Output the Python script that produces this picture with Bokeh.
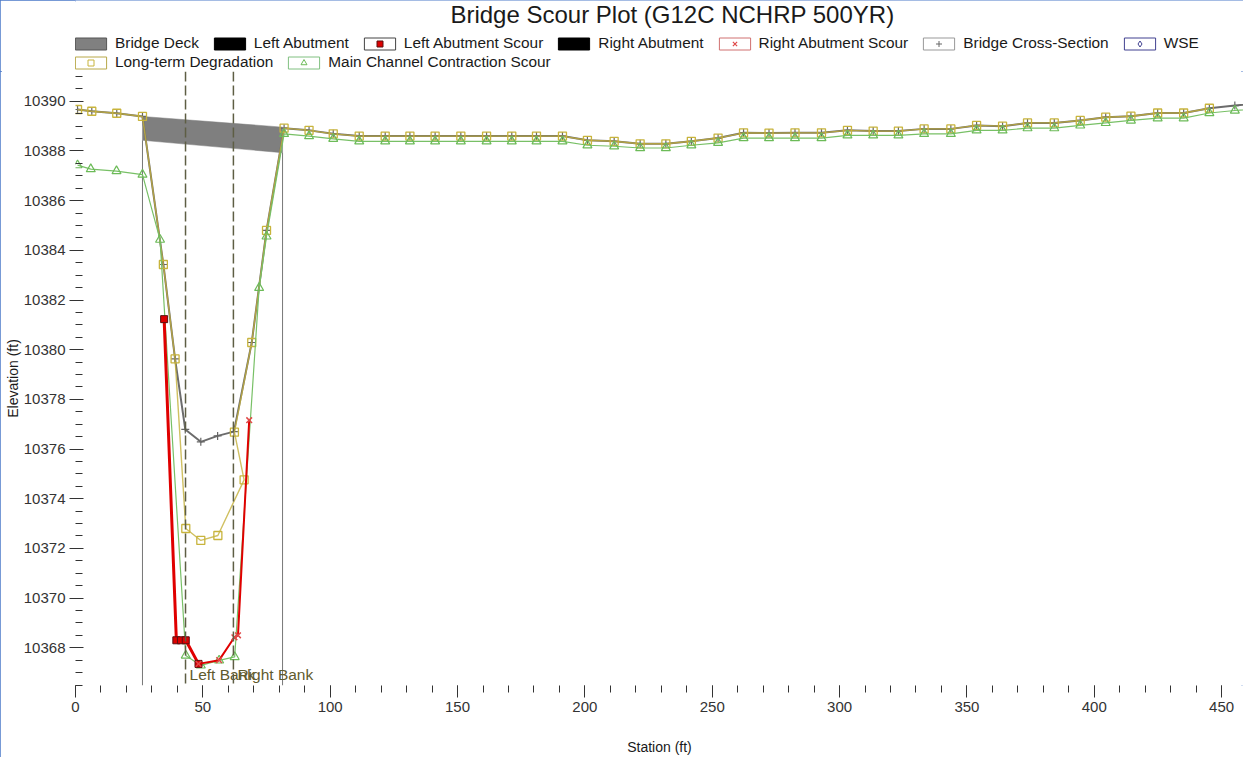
from bokeh.plotting import figure
from bokeh.layouts import column
from bokeh.models import (Legend, LegendItem, Range1d, SingleIntervalTicker, Span, Label)
from bokeh.embed import file_html
from bokeh.resources import INLINE
from bokeh.core.properties import value

NaN = float("nan")
FONT = "Liberation Sans"

# ---------------- data ----------------
title_text = "Bridge Scour Plot (G12C NCHRP 500YR)"

deck_sta = [26.3, 81.3, 81.3, 26.3]
deck_elev = [10389.39, 10388.96, 10387.93, 10388.43]

left_abut_sta = [26.3]
left_abut_low_chord = [10388.43]
right_abut_sta = [81.3]
right_abut_low_chord = [10387.93]

bank_sta = [43.2, 62.0]
bank_labels = ["Left Bank", "Right Bank"]

# Bridge cross-section (ground)
xs_sta = [0.8, 6.4, 16.2, 26.3, 34.5, 39.1, 43.1, 49.2, 55.8, 62.2, 69.2, 75.0,
          81.9, 91.7, 101.2, 111.4, 121.6, 131.3, 141.2, 151.3, 161.4, 171.3,
          181.0, 191.2, 201.0, 211.5, 221.7, 231.8, 241.8, 252.3, 262.3, 272.3,
          282.5, 292.9, 303.1, 313.2, 323.1, 333.2, 343.7, 353.8, 364.0, 373.8,
          384.3, 394.5, 404.5, 414.4, 424.9, 435.1, 445.2, 455.2, 466.0]
xs_elev = [10389.67, 10389.60, 10389.52, 10389.39, 10383.43, 10379.63, 10376.79,
           10376.29, 10376.53, 10376.70, 10380.29, 10384.80,
           10388.92, 10388.83, 10388.69, 10388.60, 10388.60, 10388.60, 10388.60,
           10388.60, 10388.60, 10388.60, 10388.60, 10388.60, 10388.43, 10388.39,
           10388.29, 10388.29, 10388.39, 10388.52, 10388.73, 10388.72, 10388.73,
           10388.73, 10388.83, 10388.80, 10388.80, 10388.89, 10388.89, 10389.03,
           10389.00, 10389.13, 10389.13, 10389.23, 10389.36, 10389.40, 10389.53,
           10389.53, 10389.72, 10389.83, 10389.95]

# Long-term degradation
ltd_sta = [0.8, 6.4, 16.2, 26.3, 34.5, 39.1, 43.3, 49.2, 55.9, 66.2, 62.4, 69.2, 75.0,
           81.9, 91.7, 101.2, 111.4, 121.6, 131.3, 141.2, 151.3, 161.4, 171.3,
           181.0, 191.2, 201.0, 211.5, 221.7, 231.8, 241.8, 252.3, 262.3, 272.3,
           282.5, 292.9, 303.1, 313.2, 323.1, 333.2, 343.7, 353.8, 364.0, 373.8,
           384.3, 394.5, 404.5, 414.4, 424.9, 435.1, 445.2]
ltd_elev = [10389.67, 10389.60, 10389.52, 10389.39, 10383.43, 10379.63, 10372.80,
            10372.32, 10372.52, 10374.76, 10376.68, 10380.29, 10384.80,
            10388.92, 10388.83, 10388.69, 10388.60, 10388.60, 10388.60, 10388.60,
            10388.60, 10388.60, 10388.60, 10388.60, 10388.60, 10388.43, 10388.39,
            10388.29, 10388.29, 10388.39, 10388.52, 10388.73, 10388.72, 10388.73,
            10388.73, 10388.83, 10388.80, 10388.80, 10388.89, 10388.89, 10389.03,
            10389.00, 10389.13, 10389.13, 10389.23, 10389.36, 10389.40, 10389.53,
            10389.53, 10389.72]

# Main channel contraction scour
mcs_sta = [0.8, 6.0, 16.1, 26.3, 33.2, 43.3, 49.2, 56.4, 62.5, 72.1, 75.0,
           81.9, 91.7, 101.2, 111.4, 121.6, 131.3, 141.2, 151.3, 161.4, 171.3,
           181.0, 191.2, 201.0, 211.5, 221.7, 231.8, 241.8, 252.3, 262.3, 272.3,
           282.5, 292.9, 303.1, 313.2, 323.1, 333.2, 343.7, 353.8, 364.0, 373.8,
           384.3, 394.5, 404.5, 414.4, 424.9, 435.1, 445.2, 455.2, 466.0]
mcs_elev = [10387.43, 10387.27, 10387.19, 10387.05, 10384.43, 10367.69, 10367.29,
            10367.49, 10367.63, 10382.49, 10384.56,
            10388.69, 10388.60, 10388.49, 10388.39, 10388.39, 10388.39, 10388.39,
            10388.39, 10388.39, 10388.39, 10388.39, 10388.39, 10388.23, 10388.19,
            10388.12, 10388.12, 10388.23, 10388.33, 10388.52, 10388.52, 10388.52,
            10388.52, 10388.63, 10388.63, 10388.63, 10388.69, 10388.69, 10388.83,
            10388.83, 10388.92, 10388.92, 10389.03, 10389.13, 10389.23, 10389.32,
            10389.32, 10389.53, 10389.63, 10389.72]

# Abutment scour
las_sta = [34.8, 39.6, 41.4, 43.3, 48.3]
las_elev = [10381.23, 10368.30, 10368.30, 10368.30, 10367.35]
ras_sta = [48.3, 56.4, 62.4, 63.8, 68.2]
ras_elev = [10367.35, 10367.50, 10368.42, 10368.50, 10377.16]

x_range = (0.0, 458.6)
y_range = (10366.48, 10391.2)

# ---------------- styles ----------------
XS_COLOR, XS_MK = "#6c6c6c", "#666666"
LTD_COLOR, LTD_MK = "#c4b03a", "#c8b43c"
MCS_COLOR, MCS_MK = "#78c066", "#6cbb58"
SCOUR_RED, LAS_FILL, LAS_EDGE, RAS_MK = "#e00000", "#dd0000", "#5a1010", "#e04848"

W = 1243
TOP_H = 71
MAIN_H = 686

# ---------------- header figure: title + legend ----------------
# (its frame is aligned by the column layout with the main plot frame)
top = figure(width=W, height=TOP_H, output_backend="svg", toolbar_location=None,
             x_range=Range1d(0, W), y_range=Range1d(0, TOP_H),
             x_axis_location=None, y_axis_location=None, title=None,
             min_border=0, min_border_left=0, min_border_right=0,
             min_border_top=0, min_border_bottom=0)
top.outline_line_color = None
top.grid.visible = False
top.add_layout(Label(x=597, y=57, x_units="screen", y_units="screen", text=title_text,
                     text_align="center", text_baseline="middle", text_font=FONT,
                     text_font_size="24px", text_color="#1a1a1a"))


def box(fill, line):
    return top.quad(left=[NaN], right=[NaN], top=[NaN], bottom=[NaN],
                    fill_color=fill, line_color=line, line_width=1)


def mk(marker, **kw):
    return top.scatter([NaN], [NaN], marker=marker, **kw)


items1 = [
    LegendItem(label="Bridge Deck", renderers=[box("#808080", "#555555")]),
    LegendItem(label="Left Abutment", renderers=[box("black", "black")]),
    LegendItem(label="Left Abutment Scour", renderers=[
        box("white", "#444444"),
        mk("square", fill_color=LAS_FILL, line_color=LAS_EDGE, line_width=1)]),
    LegendItem(label="Right Abutment", renderers=[box("black", "black")]),
    LegendItem(label="Right Abutment Scour", renderers=[
        box("white", "#d07070"), mk("x", line_color=RAS_MK, line_width=1.2)]),
    LegendItem(label="Bridge Cross-Section", renderers=[
        box("white", "#999999"), mk("cross", line_color=XS_MK, line_width=1)]),
    LegendItem(label="WSE", renderers=[
        box("white", "#404090"), mk("diamond", fill_color=None, line_color="#404090", line_width=1)]),
]
items2 = [
    LegendItem(label="Long-term Degradation", renderers=[
        box("white", "#b8a848"), mk("square", fill_color=None, line_color=LTD_MK, line_width=1)]),
    LegendItem(label="Main Channel Contraction Scour", renderers=[
        box("white", "#80c080"), mk("triangle", fill_color=None, line_color=MCS_MK, line_width=1)]),
]


def mk_legend(items, loc):
    return Legend(items=items, orientation="horizontal", location=loc,
                  glyph_width=39, glyph_height=15, label_standoff=5, spacing=11,
                  padding=0, margin=0, border_line_alpha=0, background_fill_alpha=0,
                  label_text_font=FONT, label_text_font_size="15.4px",
                  label_text_color="#1a1a1a", label_height=15)


# (x, y) = bottom-left corner of each legend, in header-frame pixels
top.add_layout(mk_legend(items1, (-4, 19)))
top.add_layout(mk_legend(items2, (-4, 0)))

# ---------------- main figure ----------------
p = figure(width=W, height=MAIN_H, output_backend="svg", toolbar_location=None,
           x_range=Range1d(*x_range), y_range=Range1d(*y_range), title=None,
           min_border_left=75, min_border_right=0, min_border_top=0,
           min_border_bottom=68, background_fill_color="white",
           border_fill_color="white")
p.outline_line_color = None
p.grid.visible = False

# bridge deck
p.patch(deck_sta, deck_elev, fill_color="#7f7f7f", line_color="#7f7f7f", line_width=0.5)
# abutment lines (down to bottom of the plot)
p.segment(x0=left_abut_sta, y0=left_abut_low_chord, x1=left_abut_sta, y1=[y_range[0]],
          line_color="#777777", line_width=1)
p.segment(x0=right_abut_sta, y0=right_abut_low_chord, x1=right_abut_sta, y1=[y_range[0]],
          line_color="#777777", line_width=1)

# bridge cross-section
p.line(xs_sta, xs_elev, line_color=XS_COLOR, line_width=2)
p.scatter(xs_sta, xs_elev, marker="cross", size=8, line_color=XS_MK, line_width=1.2)
# long-term degradation
p.line(ltd_sta, ltd_elev, line_color=LTD_COLOR, line_width=1.4, line_alpha=0.8)
p.scatter(ltd_sta, ltd_elev, marker="square", size=8, fill_color=None,
          line_color=LTD_MK, line_width=1.3)
# contraction scour
p.line(mcs_sta, mcs_elev, line_color=MCS_COLOR, line_width=1.2)
p.scatter(mcs_sta, mcs_elev, marker="triangle", size=9, fill_color=None,
          line_color=MCS_MK, line_width=1.2)
# abutment scour
p.line(las_sta, las_elev, line_color=SCOUR_RED, line_width=3)
p.scatter(las_sta, las_elev, marker="square", size=7, fill_color=LAS_FILL,
          line_color=LAS_EDGE, line_width=1)
p.line(ras_sta, ras_elev, line_color=SCOUR_RED, line_width=2)
p.scatter(ras_sta, ras_elev, marker="x", size=8, line_color=RAS_MK, line_width=1.5)

# bank stations
for s in bank_sta:
    p.add_layout(Span(location=s, dimension="height", line_color="#5e5e44",
                      line_width=1.5, line_dash="10 4"))
p.text(x=bank_sta, y=[y_range[0]] * 2, text=bank_labels, x_offset=4, y_offset=-11,
       text_baseline="middle", text_align="left", text_font=value(FONT),
       text_font_size="15.5px", text_color="#5f5a2e")

# ---------------- axes ----------------
p.xaxis.ticker = SingleIntervalTicker(interval=50, num_minor_ticks=5)
p.yaxis.ticker = SingleIntervalTicker(interval=2, num_minor_ticks=4)
p.xaxis.axis_label = "Station (ft)"
p.yaxis.axis_label = "Elevation (ft)"
for ax in (p.xaxis, p.yaxis):
    ax.axis_line_color = None
    ax.major_tick_line_color = "#333333"
    ax.minor_tick_line_color = "#333333"
    ax.major_label_text_font = FONT
    ax.major_label_text_font_size = "15px"
    ax.major_label_text_color = "#333333"
    ax.axis_label_text_font = FONT
    ax.axis_label_text_font_size = "14px"
    ax.axis_label_text_font_style = "normal"
    ax.axis_label_text_color = "#1a1a1a"
p.xaxis.major_tick_in = 0
p.xaxis.major_tick_out = 12
p.xaxis.minor_tick_in = 0
p.xaxis.minor_tick_out = 7
p.xaxis.major_label_standoff = 4
p.xaxis.axis_label_standoff = 24
p.yaxis.major_tick_in = 8
p.yaxis.major_tick_out = 6
p.yaxis.minor_tick_in = 7
p.yaxis.minor_tick_out = 0
p.yaxis.major_label_standoff = 4
p.yaxis.axis_label_standoff = 0

page = column(top, p, spacing=0)
page.styles = {"outline": "2px solid #4a78c8", "outline-offset": "-2px"}

open("out.html", "w").write(file_html(page, INLINE))
